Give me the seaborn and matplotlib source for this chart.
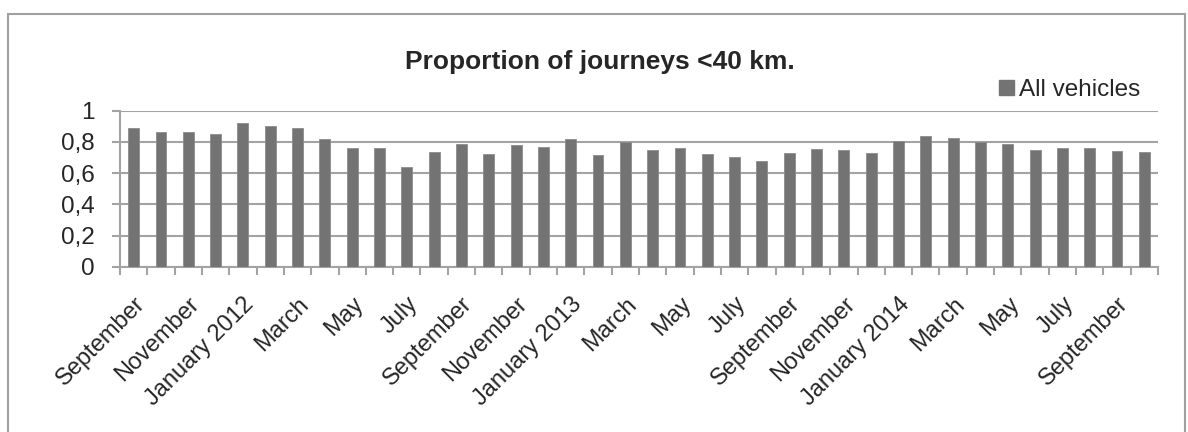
"""
Proportion of journeys under 40 km, monthly bar chart
"""
import matplotlib
matplotlib.use('Agg')
import matplotlib.pyplot as plt
import matplotlib.patches as mpatches
from matplotlib.ticker import FuncFormatter
import seaborn as sns
import pandas as pd

# Months from September 2011 to October 2014
months = [
    'Sep 2011', 'Oct 2011', 'Nov 2011', 'Dec 2011',
    'Jan 2012', 'Feb 2012', 'Mar 2012', 'Apr 2012', 'May 2012', 'Jun 2012',
    'Jul 2012', 'Aug 2012', 'Sep 2012', 'Oct 2012', 'Nov 2012', 'Dec 2012',
    'Jan 2013', 'Feb 2013', 'Mar 2013', 'Apr 2013', 'May 2013', 'Jun 2013',
    'Jul 2013', 'Aug 2013', 'Sep 2013', 'Oct 2013', 'Nov 2013', 'Dec 2013',
    'Jan 2014', 'Feb 2014', 'Mar 2014', 'Apr 2014', 'May 2014', 'Jun 2014',
    'Jul 2014', 'Aug 2014', 'Sep 2014', 'Oct 2014',
]
all_vehicles = [
    0.892, 0.866, 0.862, 0.849, 0.924, 0.900, 0.887, 0.817, 0.764, 0.759,
    0.640, 0.734, 0.787, 0.723, 0.777, 0.768, 0.819, 0.715, 0.798, 0.751,
    0.764, 0.723, 0.706, 0.678, 0.727, 0.755, 0.745, 0.727, 0.804, 0.841,
    0.826, 0.800, 0.787, 0.751, 0.764, 0.759, 0.740, 0.734,
]
# Every second month is labelled on the x axis
tick_labels = [
    'September', 'November', 'January 2012', 'March', 'May', 'July',
    'September', 'November', 'January 2013', 'March', 'May', 'July',
    'September', 'November', 'January 2014', 'March', 'May', 'July',
    'September',
]
y_ticks = [0, 0.2, 0.4, 0.6, 0.8, 1.0]

BAR_COLOR = '#737373'
GRID_COLOR = '#a3a3a3'

sns.set_style('white')
plt.rcParams['font.family'] = ['Liberation Sans', 'DejaVu Sans']

df = pd.DataFrame({'month': months, 'value': all_vehicles})

fig = plt.figure(figsize=(11.88, 4.32), dpi=100)
ax = fig.add_axes([120 / 1188, 1 - 266.7 / 432, 1038 / 1188, 156 / 432])

sns.barplot(data=df, x='month', y='value', color=BAR_COLOR, saturation=1,
            width=0.4, edgecolor='#8c8c8c', linewidth=0.6, ax=ax, zorder=3)

ax.set_xlim(-0.5, len(months) - 0.5)
ax.set_ylim(0, 1)

# gridlines and y ticks (ticks sit outside, left of the axis)
ax.set_yticks(y_ticks)
ax.yaxis.set_major_formatter(FuncFormatter(
    lambda v, p: ('%g' % round(v, 1)).replace('.', ',')))
ax.grid(True, axis='y', color=GRID_COLOR, linewidth=1.5, zorder=0)
ax.tick_params(axis='y', which='major', direction='out', length=6,
               width=1.5, color=GRID_COLOR, pad=12, labelsize=17.5,
               left=True)

# x ticks: marks on category boundaries, labels on every second bar
ax.set_xticks(range(0, len(months), 2))
ax.set_xticklabels(tick_labels, rotation=45, ha='right',
                   rotation_mode='anchor', fontsize=17)
ax.set_xticks([i - 0.5 for i in range(len(months) + 1)], minor=True)
ax.tick_params(axis='x', which='major', length=0, pad=19)
ax.tick_params(axis='x', which='minor', direction='out', length=6,
               width=1.5, color=GRID_COLOR, bottom=True)
ax.set_xlabel('')
ax.set_ylabel('')

for side in ['top', 'right']:
    ax.spines[side].set_visible(False)
for side in ['left', 'bottom']:
    ax.spines[side].set_color(GRID_COLOR)
    ax.spines[side].set_linewidth(1.5)

# title and legend
fig.text(0.505, 1 - 62 / 432, 'Proportion of journeys <40 km.',
         ha='center', va='center', fontsize=19, fontweight='bold')
handle = mpatches.Patch(color=BAR_COLOR, label='All vehicles')
fig.legend(handles=[handle], loc='center right',
           bbox_to_anchor=(1140 / 1188, 1 - 90 / 432), frameon=False,
           fontsize=17.5, handlelength=0.6, handleheight=0.6,
           handletextpad=0.2, borderpad=0, borderaxespad=0)

# outer chart border
fig.patches.append(mpatches.Rectangle(
    (8 / 1188, -0.01), 1177 / 1188, 1.01 - 14 / 432,
    transform=fig.transFigure, fill=False, edgecolor='#a0a0a0',
    linewidth=1.5))

fig.savefig('out.png', dpi=100)
plt.close(fig)
